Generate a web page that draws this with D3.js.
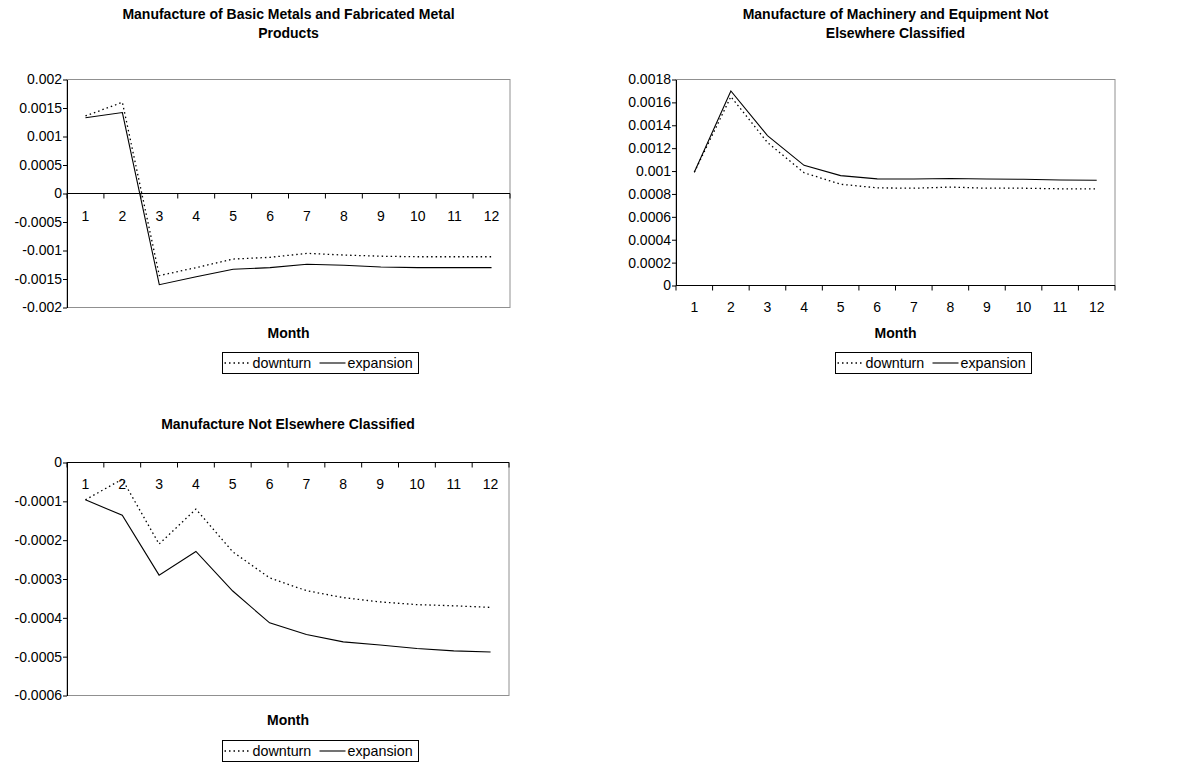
<!DOCTYPE html>
<html><head><meta charset="utf-8">
<script src="https://cdn.jsdelivr.net/npm/d3@7"></script>
<style>
body{margin:0;background:#fff;}
svg text{font-family:"Liberation Sans",Arial,sans-serif;fill:#000;}
</style></head>
<body><svg id="c" width="1191" height="767"></svg>
<script>
const months = [1,2,3,4,5,6,7,8,9,10,11,12];
const seriesNames = ["downturn","expansion"];

const titles1 = ["Manufacture of Basic Metals and Fabricated Metal","Products"];
const downturn1 = [0.00136,0.0016,-0.00144,-0.0013,-0.00115,-0.00112,-0.00105,-0.00108,-0.0011,-0.00111,-0.00111,-0.00111];
const expansion1 = [0.00133,0.00142,-0.0016,-0.00146,-0.00133,-0.0013,-0.00124,-0.00126,-0.00129,-0.0013,-0.0013,-0.0013];
const yTicks1 = [-0.002,-0.0015,-0.001,-0.0005,0,0.0005,0.001,0.0015,0.002];

const titles2 = ["Manufacture of Machinery and Equipment Not","Elsewhere Classified"];
const downturn2 = [0.00099,0.00165,0.00125,0.000985,0.000885,0.000853,0.00085,0.00086,0.00085,0.00085,0.000845,0.000845];
const expansion2 = [0.00099,0.0017,0.00131,0.00105,0.00096,0.000932,0.00093,0.000935,0.00093,0.000928,0.000922,0.00092];
const yTicks2 = [0,0.0002,0.0004,0.0006,0.0008,0.001,0.0012,0.0014,0.0016,0.0018];

const titles3 = ["Manufacture Not Elsewhere Classified"];
const downturn3 = [-0.000096,-0.000043,-0.00021,-0.00012,-0.00023,-0.000297,-0.00033,-0.000348,-0.000359,-0.000366,-0.000369,-0.000373];
const expansion3 = [-0.000096,-0.000136,-0.00029,-0.000229,-0.000331,-0.000413,-0.000443,-0.000462,-0.00047,-0.000479,-0.000485,-0.000488];
const yTicks3 = [-0.0006,-0.0005,-0.0004,-0.0003,-0.0002,-0.0001,0];

const axisTitle = "Month";

const svg = d3.select("#c");
const fmt = v => String(+v.toFixed(4));
const FONT = "Liberation Sans, Arial, sans-serif";

function drawChart(cfg){
  const g = svg.append("g");
  const x = d3.scaleBand().domain(months).range([cfg.left, cfg.right]).padding(0);
  const y = d3.scaleLinear().domain(d3.extent(cfg.yTicks)).range([cfg.bottom, cfg.top]);
  const cx = m => x(m) + x.bandwidth()/2;

  cfg.titles.forEach((t,i)=>{
    g.append("text").attr("x",(cfg.left+cfg.right)/2).attr("y",cfg.titleY + i*19)
     .attr("text-anchor","middle").attr("font-size",14).attr("font-weight","bold").text(t);
  });

  g.append("rect").attr("x",cfg.left).attr("y",cfg.top).attr("width",cfg.right-cfg.left)
   .attr("height",cfg.bottom-cfg.top).attr("fill","none").attr("stroke","#909090").attr("stroke-width",1);

  const yAxis = d3.axisLeft(y).tickValues(cfg.yTicks).tickFormat(fmt).tickSize(4).tickSizeOuter(0).tickPadding(1);
  const ya = g.append("g").attr("transform",`translate(${cfg.left},0)`).call(yAxis);
  ya.select(".domain").attr("stroke","#000");
  ya.selectAll(".tick line").attr("stroke","#000");
  ya.selectAll(".tick text").attr("font-size",14).attr("font-family",FONT).attr("fill","#000");

  const y0 = y(0);
  g.append("line").attr("x1",cfg.left).attr("x2",cfg.right).attr("y1",y0).attr("y2",y0).attr("stroke","#000");
  const bounds = months.map(m=>x(m)).concat([cfg.right]);
  g.selectAll(".xt").data(bounds).join("line").attr("class","xt")
   .attr("x1",d=>d).attr("x2",d=>d).attr("y1",y0).attr("y2",y0+5).attr("stroke","#000");
  g.selectAll(".xl").data(months).join("text").attr("class","xl")
   .attr("x",d=>cx(d)).attr("y",y0+cfg.xLabOff).attr("text-anchor","middle").attr("font-size",14).text(d=>d);

  const line = d3.line().x((d,i)=>cx(months[i])).y(d=>y(d));
  g.append("path").datum(cfg.downturn).attr("d",line).attr("fill","none").attr("stroke","#000")
   .attr("stroke-width",1.3).attr("stroke-dasharray","1.5,3");
  g.append("path").datum(cfg.expansion).attr("d",line).attr("fill","none").attr("stroke","#000")
   .attr("stroke-width",1.1);

  g.append("text").attr("x",(cfg.left+cfg.right)/2).attr("y",cfg.monthY).attr("text-anchor","middle")
   .attr("font-size",14).attr("font-weight","bold").text(axisTitle);

  const lx = cfg.legX, ly = cfg.legY;
  g.append("rect").attr("x",lx).attr("y",ly).attr("width",196).attr("height",21)
   .attr("fill","#fff").attr("stroke","#000").attr("stroke-width",1);
  const my = ly + 10.5;
  g.append("line").attr("x1",lx+2).attr("x2",lx+28).attr("y1",my).attr("y2",my)
   .attr("stroke","#000").attr("stroke-width",1.3).attr("stroke-dasharray","1.5,3");
  g.append("text").attr("x",lx+30).attr("y",my+5).attr("font-size",14.3).text(seriesNames[0]);
  g.append("line").attr("x1",lx+97).attr("x2",lx+123).attr("y1",my).attr("y2",my)
   .attr("stroke","#000").attr("stroke-width",1.1);
  g.append("text").attr("x",lx+125).attr("y",my+5).attr("font-size",14.3).text(seriesNames[1]);
}

drawChart({titles:titles1, downturn:downturn1, expansion:expansion1, yTicks:yTicks1,
  left:67, right:510, top:79.5, bottom:307.5, titleY:19, monthY:338, legX:222.5, legY:352.5, xLabOff:27});
drawChart({titles:titles2, downturn:downturn2, expansion:expansion2, yTicks:yTicks2,
  left:676, right:1115, top:79.5, bottom:285.5, titleY:19, monthY:338, legX:835.5, legY:352.5, xLabOff:26});
drawChart({titles:titles3, downturn:downturn3, expansion:expansion3, yTicks:yTicks3,
  left:67, right:509, top:462.5, bottom:695.5, titleY:429, monthY:725, legX:222.5, legY:740.5, xLabOff:26.5});
</script></body></html>
